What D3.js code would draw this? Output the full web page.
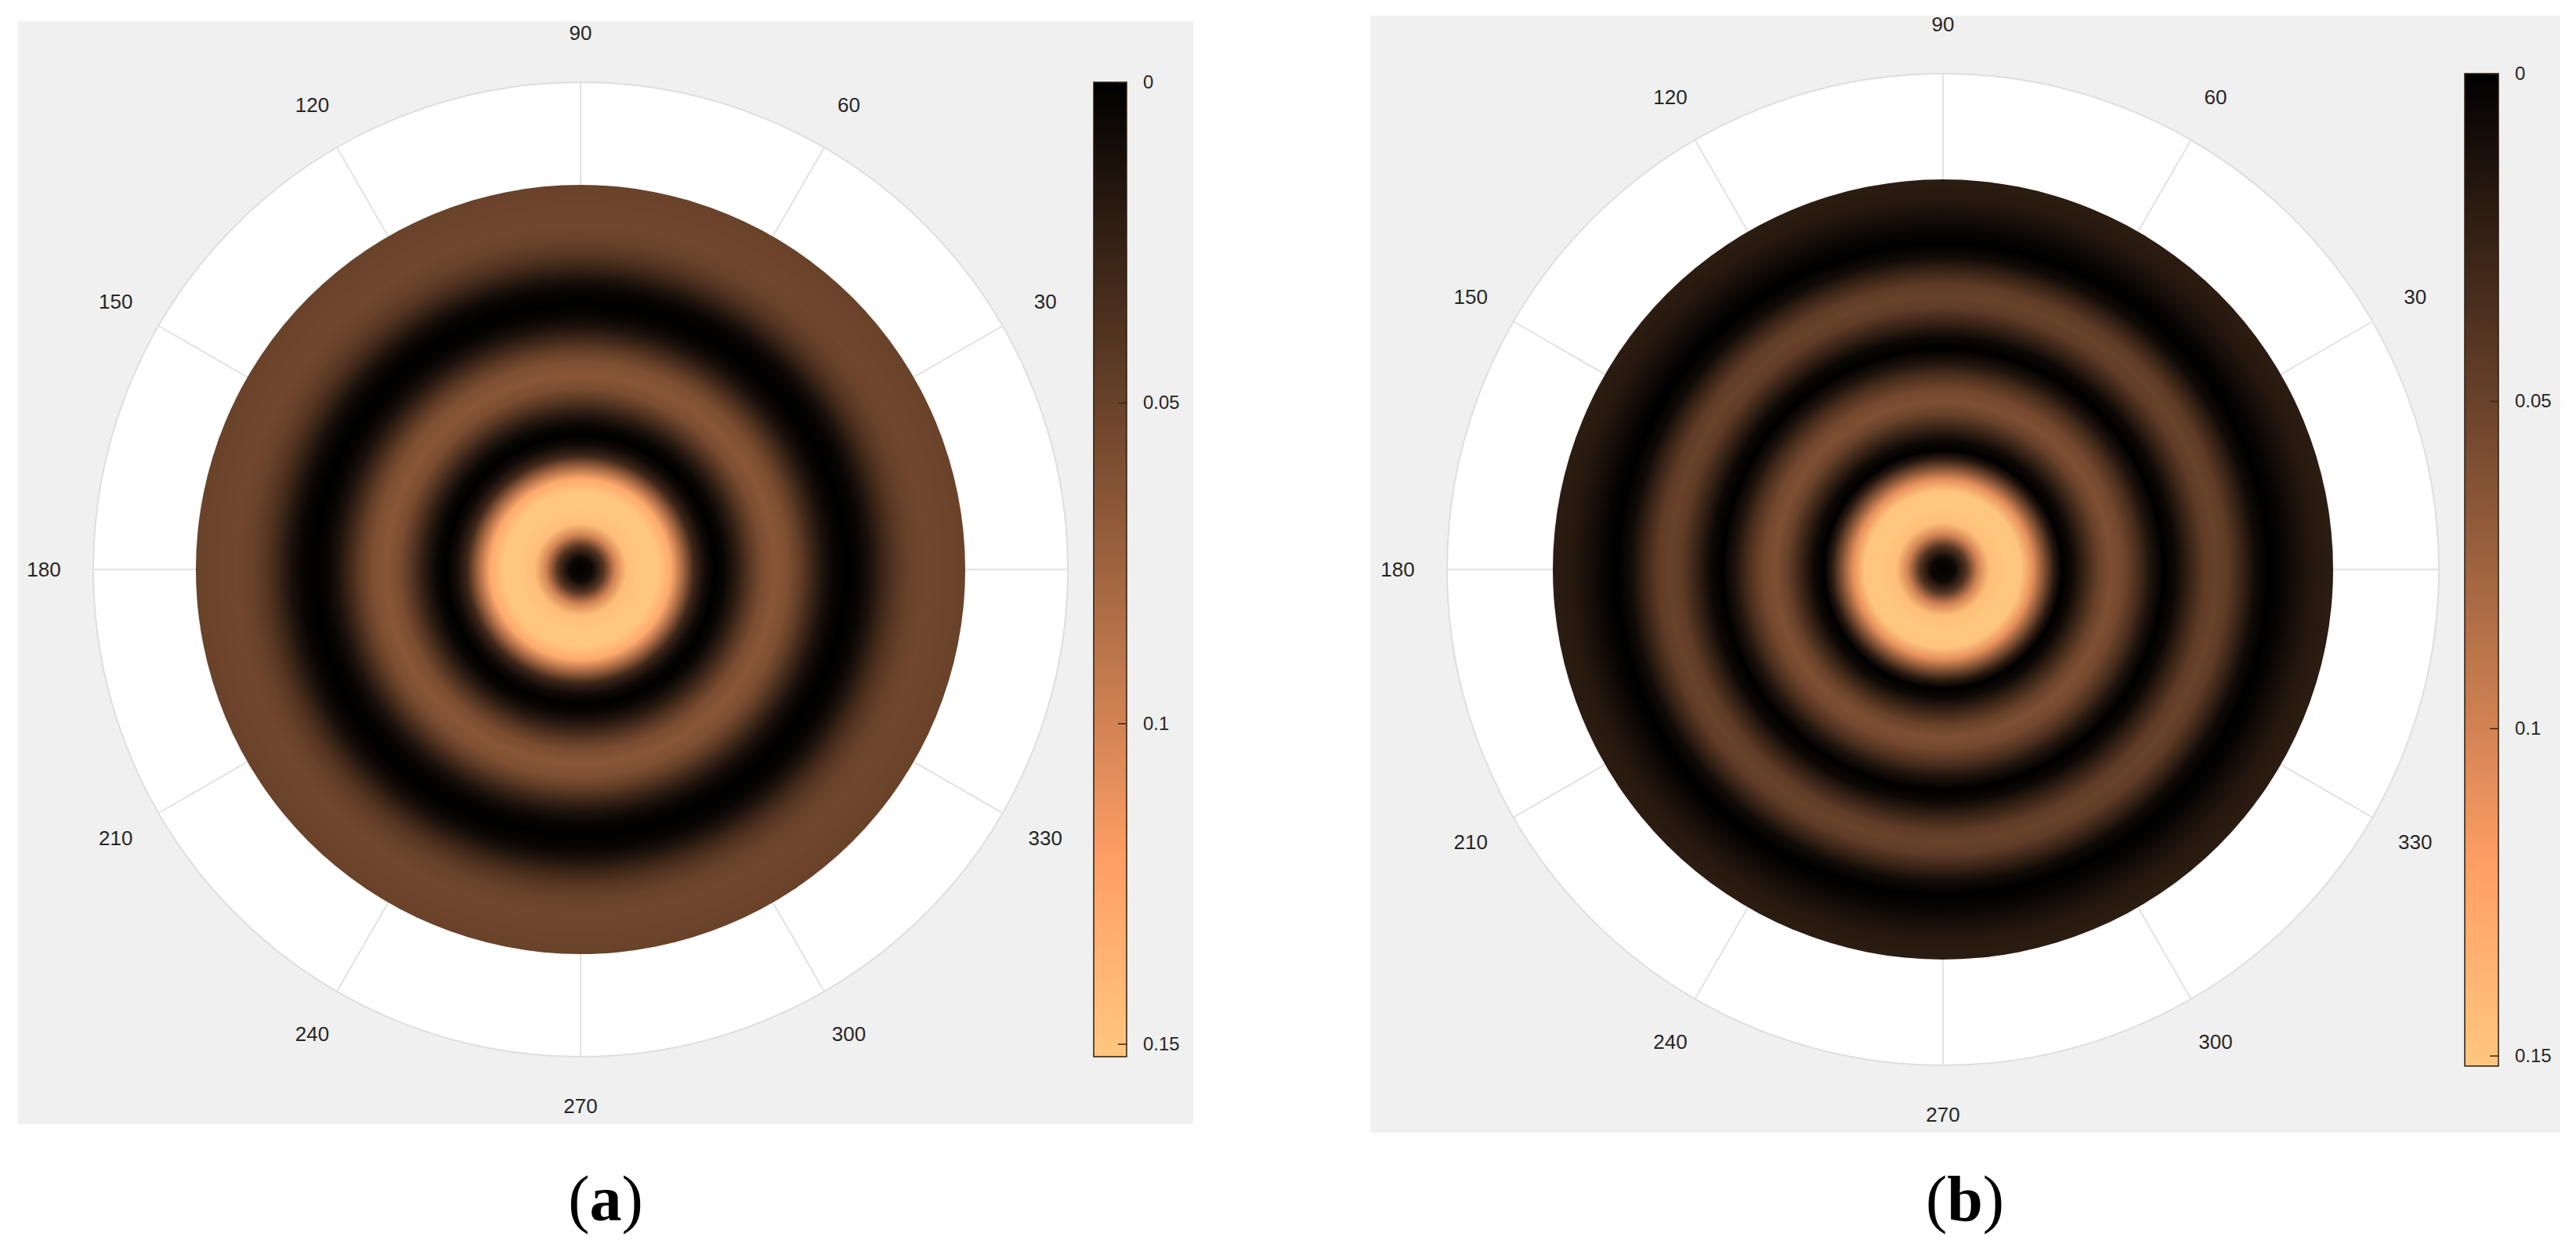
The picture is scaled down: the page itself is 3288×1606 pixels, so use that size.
<!DOCTYPE html>
<html>
<head>
<meta charset="utf-8">
<script src="https://cdn.jsdelivr.net/npm/d3@7"></script>
<style>
  body { margin: 0; background: #fff; }
  text { font-family: "Liberation Sans", Arial, sans-serif; fill: #262626; }
</style>
</head>
<body>
<svg id="fig" width="3288" height="1606"></svg>
<script>

// angle grid (degrees)
var angleTicks = [0, 30, 60, 90, 120, 150, 180, 210, 240, 270, 300, 330];
// colorbar ticks
var cbTicks = [0, 0.05, 0.1, 0.15];
var cbTickLabels = ["0", "0.05", "0.1", "0.15"];

// radial profiles (radius as fraction of the data disk)
var radiusA = [0, 0.03, 0.06, 0.09, 0.12, 0.16, 0.20, 0.235, 0.265, 0.295, 0.325, 0.35, 0.375, 0.405, 0.44, 0.47, 0.505, 0.54, 0.57, 0.60, 0.63, 0.66, 0.69, 0.725, 0.755, 0.785, 0.815, 0.855, 0.895, 0.935, 1.0];
var valueA  = [0, 0.006, 0.04, 0.10, 0.145, 0.16, 0.155, 0.13, 0.08, 0.03, 0.008, 0, 0.005, 0.02, 0.042, 0.058, 0.066, 0.06, 0.047, 0.03, 0.014, 0.004, 0, 0.004, 0.014, 0.028, 0.04, 0.05, 0.054, 0.053, 0.05];

var radiusB = [0, 0.03, 0.06, 0.09, 0.12, 0.16, 0.20, 0.23, 0.26, 0.285, 0.305, 0.33, 0.36, 0.40, 0.43, 0.46, 0.50, 0.53, 0.565, 0.595, 0.63, 0.67, 0.70, 0.73, 0.77, 0.80, 0.835, 0.865, 0.90, 0.95, 1.0];
var valueB  = [0, 0.006, 0.04, 0.10, 0.145, 0.16, 0.15, 0.11, 0.06, 0.02, 0, 0.006, 0.025, 0.05, 0.06, 0.055, 0.035, 0.015, 0, 0.006, 0.025, 0.045, 0.05, 0.045, 0.025, 0.008, 0, 0.003, 0.01, 0.018, 0.021];

var panels = [
    {name: "a", radius: radiusA, value: valueA, bg: [23, 27, 1500, 1408], cx: 741, cy: 727, rOut: 622, rData: 491,
     cb: {x: 1396, y: 105, w: 42, h: 1244, max: 0.152}, label: [773, 1558]},
    {name: "b", radius: radiusB, value: valueB, bg: [1749, 20, 1519, 1426], cx: 2480, cy: 727, rOut: 633, rData: 498,
     cb: {x: 3146, y: 94, w: 43, h: 1267, max: 0.1516}, label: [2508, 1558]}
];

// MATLAB copper colormap
function copper(t){
    t = Math.max(0, Math.min(1, t));
    return d3.rgb(255 * Math.min(1, 1.25 * t), 255 * 0.7812 * t, 255 * 0.4975 * t).toString();
}

var svg = d3.select("#fig");
var defs = svg.append("defs");

panels.forEach(function(p){

    var color = d3.scaleSequential(copper).domain([0, p.cb.max]).clamp(true);
    var rScale = d3.scaleLinear().domain([0, 1]).range([0, p.rData]);
    var g = svg.append("g");

    // figure background
    g.append("rect")
        .attr("x", p.bg[0]).attr("y", p.bg[1])
        .attr("width", p.bg[2]).attr("height", p.bg[3])
        .style("fill", "#f0f0f0");

    // polar axes
    g.append("circle")
        .attr("cx", p.cx).attr("cy", p.cy).attr("r", p.rOut)
        .style("fill", "#fff")
        .style("stroke", "#dedede")
        .style("stroke-width", 2);

    g.selectAll("line.spoke")
        .data(angleTicks)
        .enter().append("line")
        .attr("class", "spoke")
        .attr("x1", p.cx).attr("y1", p.cy)
        .attr("x2", function(d){ return p.cx + p.rOut * Math.cos(d * Math.PI / 180); })
        .attr("y2", function(d){ return p.cy - p.rOut * Math.sin(d * Math.PI / 180); })
        .style("stroke", "#e2e2e2")
        .style("stroke-width", 2);

    // field as a radial gradient, one stop per sample
    var grad = defs.append("radialGradient")
        .attr("id", "field" + p.name)
        .attr("gradientUnits", "userSpaceOnUse")
        .attr("cx", p.cx).attr("cy", p.cy).attr("r", rScale(1));
    grad.selectAll("stop")
        .data(p.radius)
        .enter().append("stop")
        .attr("offset", function(d){ return rScale(d) / p.rData; })
        .attr("stop-color", function(d, i){ return color(p.value[i]); });

    g.append("circle")
        .attr("cx", p.cx).attr("cy", p.cy).attr("r", rScale(1))
        .style("fill", "url(#field" + p.name + ")");

    // angle labels (0 sits under the colorbar)
    g.selectAll("text.ang")
        .data(angleTicks.filter(function(d){ return d !== 0; }))
        .enter().append("text")
        .attr("class", "ang")
        .attr("x", function(d){ return p.cx + (p.rOut + 63) * Math.cos(d * Math.PI / 180); })
        .attr("y", function(d){ return p.cy - (p.rOut + 63) * Math.sin(d * Math.PI / 180); })
        .attr("text-anchor", "middle")
        .attr("dominant-baseline", "central")
        .style("font-size", "26px")
        .text(function(d){ return d; });

    // colorbar
    var cbGrad = defs.append("linearGradient")
        .attr("id", "cb" + p.name)
        .attr("x1", 0).attr("y1", 0).attr("x2", 0).attr("y2", 1);
    cbGrad.selectAll("stop")
        .data(d3.range(0, 1.0001, 0.02))
        .enter().append("stop")
        .attr("offset", function(d){ return d; })
        .attr("stop-color", function(d){ return color(d * p.cb.max); });

    var yCb = d3.scaleLinear().domain([0, p.cb.max]).range([p.cb.y, p.cb.y + p.cb.h]);

    g.append("rect")
        .attr("x", p.cb.x).attr("y", p.cb.y)
        .attr("width", p.cb.w).attr("height", p.cb.h)
        .style("fill", "url(#cb" + p.name + ")")
        .style("stroke", "#2b1a0e")
        .style("stroke-width", 1.5);

    var axis = d3.axisRight(yCb)
        .tickValues(cbTicks)
        .tickFormat(function(d, i){ return cbTickLabels[i]; })
        .tickSizeInner(-11)
        .tickSizeOuter(0)
        .tickPadding(21);

    var ax = g.append("g")
        .attr("transform", "translate(" + (p.cb.x + p.cb.w) + ",0)")
        .call(axis);
    ax.select(".domain").remove();
    ax.selectAll("line").style("stroke", "#3a2413").style("stroke-width", 1.5);
    ax.selectAll("text")
        .style("font-size", "24px")
        .style("font-family", "Liberation Sans, Arial, sans-serif")
        .style("fill", "#262626");

    // panel letter
    var lab = svg.append("text")
        .attr("x", p.label[0]).attr("y", p.label[1])
        .attr("text-anchor", "middle")
        .style("font-family", "Liberation Serif, Times New Roman, serif")
        .style("font-size", "82px")
        .style("fill", "#000");
    lab.append("tspan").text("(");
    lab.append("tspan").style("font-weight", "bold").text(p.name);
    lab.append("tspan").text(")");
});

</script>
</body>
</html>
